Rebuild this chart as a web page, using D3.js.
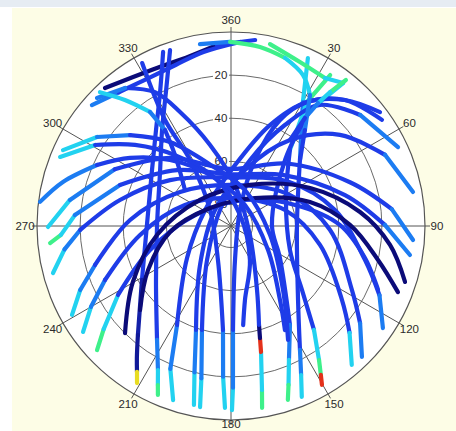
<!DOCTYPE html>
<html>
<head>
<meta charset="utf-8" />
<title>Satellite sky plot</title>
<script src="https://d3js.org/d3.v7.min.js"></script>
<style>
body {
    margin: 0;
    background-color: #ffffff;
}
svg {
    display: block;
}
</style>
</head>
<body>
<svg id="chart"></svg>
<script>

// elevation rings and azimuth spokes
var ringLevels = [20, 40, 60, 80];
var azimuthTicks = [0, 30, 60, 90, 120, 150, 180, 210, 240, 270, 300, 330];
var azimuthLabels = ["360", "30", "60", "90", "120", "150", "180", "210", "240", "270", "300", "330"];

// signal strength colour map (jet-like)
var snrLevels = [30, 37, 41, 45, 48, 51, 54];
var snrColors = ["#0b0b78", "#1e3ce8", "#1c7cf2", "#22d2f0", "#3ef08a", "#e8dc22", "#e4301a"];

// satellite tracks: [azimuth, elevation, snr]
var track01 = [[317.6,3.3,30],[326.7,7.3,30],[336.3,9.2,30],[346.1,9.0,30],[355.6,5.8,37],[7.4,3,37]];
var track02 = [[311,4.5,41],[320,9,37],[330.5,11.4,37],[341,11,37],[351,8.3,37],[2.8,4.5,37]];
var track03 = [[338.7,3.3,37],[332.1,19.7,37],[322,33.5,37],[305.3,45.1,37],[270.7,51,37],[238.8,41.7,33],[220.5,23.5,32],[215.5,14.8,32],[212.8,9.5,51],[210.9,5.1,51]];
var track04 = [[340.9,3.6,37],[334.1,20.9,37],[324.3,35.2,37],[308.3,48.1,37],[270.8,55.7,37],[234.2,47.1,37],[213,27,41],[206.9,15.1,45],[204.7,8.8,48],[203.4,4.6,48]];
var track05 = [[24.6,4.3,45],[30.1,23.5,41],[45.4,45,37],[89.1,59.4,37],[137.8,43.7,37],[150.9,24.2,41],[154.8,13.6,45],[157.5,4.2,45]];
var track06 = [[33.3,6.2,48],[31.5,22.5,45],[37.8,45.4,37],[64.7,61.8,37],[112.1,60.5,37],[132,45.7,37],[141.4,28.3,45],[146.7,15.6,48],[148.9,9.3,54],[150.2,5.1,54]];
var track07 = [[38.1,5.7,45],[34.3,24.9,37],[39.3,50.4,37],[88.6,71,37],[123.1,62.9,37],[149.2,36.6,41],[156.6,22.3,45],[160.1,11.6,48],[161.9,5.1,48]];
var track08 = [[170.3,4.4,48],[169.3,12.6,45],[166.6,29.9,54],[165.5,36.3,30],[164.2,42.3,37],[157.9,57.9,37],[115.3,80.3,37],[5.6,70.9,37],[345.5,51.2,37],[335.9,32.1,37],[330.4,18.6,37],[322.5,9.3,41],[313.7,4,41]];
var track09 = [[179.7,4.6,45],[179.3,15,41],[178.9,41.8,37],[173.3,74.1,37],[29.4,81.5,37],[20,57.4,37],[24.8,35.8,37],[31.5,22.5,37],[42.1,11.2,37],[54.9,4.4,37]];
var track10 = [[181.9,5.6,45],[183,20,41],[184.4,41.6,37],[201,73.1,37],[307.3,77.8,37],[328.2,54,37],[328.1,32.1,37],[331.4,3.9,37]];
var track11 = [[189.7,4.8,45],[191,18,41],[195.6,39.9,37],[215.2,70.7,37],[336.8,79.4,37],[16.1,58.1,37],[28.1,36.9,37],[36.3,20.3,37],[49.3,11,41],[64.7,4.3,41]];
var track12 = [[191.7,5.2,45],[194,20,41],[198.6,39.1,37],[218.5,66.9,37],[315,79.5,37],[14,63.2,37],[34.5,41.6,37],[50.1,24.1,37],[65.2,11.3,41],[79.4,4.1,30]];
var track13 = [[198.4,4.9,45],[203,18,41],[208.6,37.7,37],[234,64.8,37],[301.6,75.9,37],[3.8,61.7,37],[21.1,39.8,37],[31.5,22.5,37],[42.1,11.2,37],[52.6,3,30]];
var track14 = [[269.7,5.1,45],[279.2,14.3,41],[296,30,37],[318,47.5,37],[359,63.5,37],[42,51,37],[70,31,37],[84,15,41],[94.4,5.3,45]];
var track15 = [[264.6,5.7,48],[267,11,45],[274,17.4,41],[290.3,35.1,37],[316,54,37],[359,66,37],[46,56,37],[74.8,35.2,37],[89.6,18.6,41],[99.2,5.9,45]];
var track16 = [[255.2,4.6,45],[262,12,41],[268.5,20,37],[283.2,37.1,37],[307,54.6,37],[358.9,67.5,37],[52,56.5,37],[81.3,41.2,37],[104.2,25.9,37],[115,14,41],[123.9,5.1,45]];
var track17 = [[240.8,5.5,45],[247,14,41],[254,24.4,37],[273.4,43.1,37],[303.7,61.6,37],[5.6,70.9,37],[62.3,59.1,37],[92.3,44,37],[117.9,26.5,37],[127,15,41],[135,4.1,45]];
var track18 = [[234.4,5.6,45],[240,15,41],[246.8,26.4,37],[264.4,47.6,37],[294.5,66.5,37],[8.1,76.9,37],[73.5,63.9,37],[102,47.8,37],[123.7,28.1,37],[132,16,45],[139,4.6,48]];
var track19 = [[227.2,5.3,48],[231,14,45],[238.6,28.6,37],[253.5,50.8,37],[287,72.6,37],[28.3,76.3,37],[71.8,58.7,37],[89.5,39.4,37],[103.4,26.1,37],[113.5,15.6,37]];
var track20 = [[224.7,20.1,30],[240.3,37.6,30],[263.1,55.4,30],[310,71.2,30],[24.9,69,30],[64.3,49.3,30],[83.8,29.8,30],[96.8,15.7,30],[107.8,5.2,30]];
var track21 = [[227.3,32.6,30],[242,46.4,30],[264.4,61.6,30],[310.6,77.2,30],[40.6,72.9,30],[73.1,51.7,30],[89.5,34.8,30],[103,20,30],[111.6,6.7,30]];
var track22 = [[294.3,4.5,45],[303.6,15.4,41],[312,27,37],[324,41.8,37],[343,61,37],[21.3,72.1,37],[103,71.4,37],[140.9,51.7,37],[153.4,30.9,41]];
var track23 = [[292,4.5,45],[300.8,16.6,37],[310.2,31.7,37],[321.7,48.1,37],[341.6,66.5,37],[39.3,83.4,37],[150.8,72,37],[169.3,55.1,37],[173,43.7,37]];
var track24 = [[277.2,0.7,41],[284.7,9.4,41],[294.5,21.7,37],[304,33.5,37],[317.3,48.3,37],[337.6,64.4,37],[33.7,78.3,37],[123,69.5,37],[146.5,48.8,37],[152.6,35.6,41]];
var track25 = [[350.3,4.4,41],[359.7,4.6,48],[9.2,5.9,48],[17.8,8.1,45],[25.5,12.4,45],[31.1,19,41],[37.6,33.8,37],[46.3,45.7,37]];
var track26 = [[12.1,3.7,48],[22.8,7.5,48],[32.4,8.7,45],[38.1,5.7,45]];
var track27 = [[38.2,3.8,48],[36.5,12.7,45],[35.3,20.1,41],[34.4,29.3,37],[34.5,41.6,37]];
var track28 = [[315.6,3.1,45],[319.9,13.6,45],[324.6,25.1,41],[325.5,36,37],[321.7,48.1,37],[308,62.9,37]];

var tracks = [track01, track02, track03, track04, track05, track06, track07, track08, track09, track10,
              track11, track12, track13, track14, track15, track16, track17, track18, track19, track20,
              track21, track22, track23, track24, track25, track26, track27, track28];

var width = 456;
var height = 431;
var cx = 231;
var cy = 226;
var radius = 194;

var svg = d3.select("#chart")
    .attr("width", width)
    .attr("height", height)
    .style("font-family", "'Liberation Sans', Arial, sans-serif");

// window frame
svg.append("rect")
    .attr("width", width).attr("height", height)
    .attr("fill", "#ffffff");
svg.append("rect")
    .attr("x", 0).attr("y", 0).attr("width", width).attr("height", 7)
    .attr("fill", "#e6ecf3");
svg.append("rect")
    .attr("x", 12).attr("y", 8).attr("width", width - 12).attr("height", height - 8)
    .attr("fill", "#fdfde6");

var r = d3.scaleLinear().domain([90, 0]).range([0, radius]);
var color = d3.scaleLinear().domain(snrLevels).range(snrColors).clamp(true);

function px(az, el) {
    var a = az * Math.PI / 180;
    return [cx + r(el) * Math.sin(a), cy - r(el) * Math.cos(a)];
}

var grid = svg.append("g");

grid.append("circle")
    .attr("cx", cx).attr("cy", cy).attr("r", r(0))
    .attr("fill", "#ffffff")
    .attr("stroke", "#555555")
    .attr("stroke-width", 1.2);

grid.selectAll(".ring")
    .data(ringLevels)
    .enter().append("circle")
    .attr("class", "ring")
    .attr("cx", cx).attr("cy", cy)
    .attr("r", function(d) { return r(d); })
    .attr("fill", "none")
    .attr("stroke", "#6a6a6a")
    .attr("stroke-width", 1);

grid.selectAll(".spoke")
    .data(azimuthTicks)
    .enter().append("line")
    .attr("class", "spoke")
    .attr("x1", cx).attr("y1", cy)
    .attr("x2", function(d) { return cx + (radius + 5) * Math.sin(d * Math.PI / 180); })
    .attr("y2", function(d) { return cy - (radius + 5) * Math.cos(d * Math.PI / 180); })
    .attr("stroke", "#555555")
    .attr("stroke-width", 1);

grid.selectAll(".azlabel")
    .data(azimuthTicks)
    .enter().append("text")
    .attr("class", "azlabel")
    .attr("x", function(d) { return cx + (radius + 12) * Math.sin(d * Math.PI / 180); })
    .attr("y", function(d) { return Math.min(height - 7, cy - (radius + 12) * Math.cos(d * Math.PI / 180)); })
    .attr("text-anchor", "middle")
    .attr("dominant-baseline", "central")
    .attr("font-size", "11.5px")
    .attr("fill", "#2a2a2a")
    .text(function(d, i) { return azimuthLabels[i]; });

var ringLabels = grid.selectAll(".ringlabel")
    .data(ringLevels)
    .enter().append("g")
    .attr("class", "ringlabel")
    .attr("transform", function(d) { return "translate(" + (cx - 10) + "," + (cy - r(d)) + ")"; });

ringLabels.append("rect")
    .attr("x", -8).attr("y", -6).attr("width", 16).attr("height", 12)
    .attr("fill", "#ffffff");

ringLabels.append("text")
    .attr("text-anchor", "middle")
    .attr("dominant-baseline", "central")
    .attr("font-size", "11.5px")
    .attr("fill", "#2a2a2a")
    .text(function(d) { return d; });

// tracks, drawn as runs of equal colour
var line = d3.line()
    .x(function(d) { return px(d[0], d[1])[0]; })
    .y(function(d) { return px(d[0], d[1])[1]; })
    .curve(d3.curveCatmullRom);

var trackLayer = svg.append("g");

tracks.forEach(function(track) {
    var runs = [];
    var current = null;
    for (var i = 0; i < track.length - 1; i++) {
        var c = color(track[i][2]);
        if (!current || current.color !== c) {
            current = { color: c, start: i };
            runs.push(current);
        }
        current.end = i + 1;
    }
    runs.forEach(function(run) {
        trackLayer.append("path")
            .attr("d", line(track.slice(run.start, run.end + 1)))
            .attr("fill", "none")
            .attr("stroke", run.color)
            .attr("stroke-width", 4.2)
            .attr("stroke-linecap", "round")
            .attr("stroke-linejoin", "round");
    });
});

</script>
</body>
</html>
